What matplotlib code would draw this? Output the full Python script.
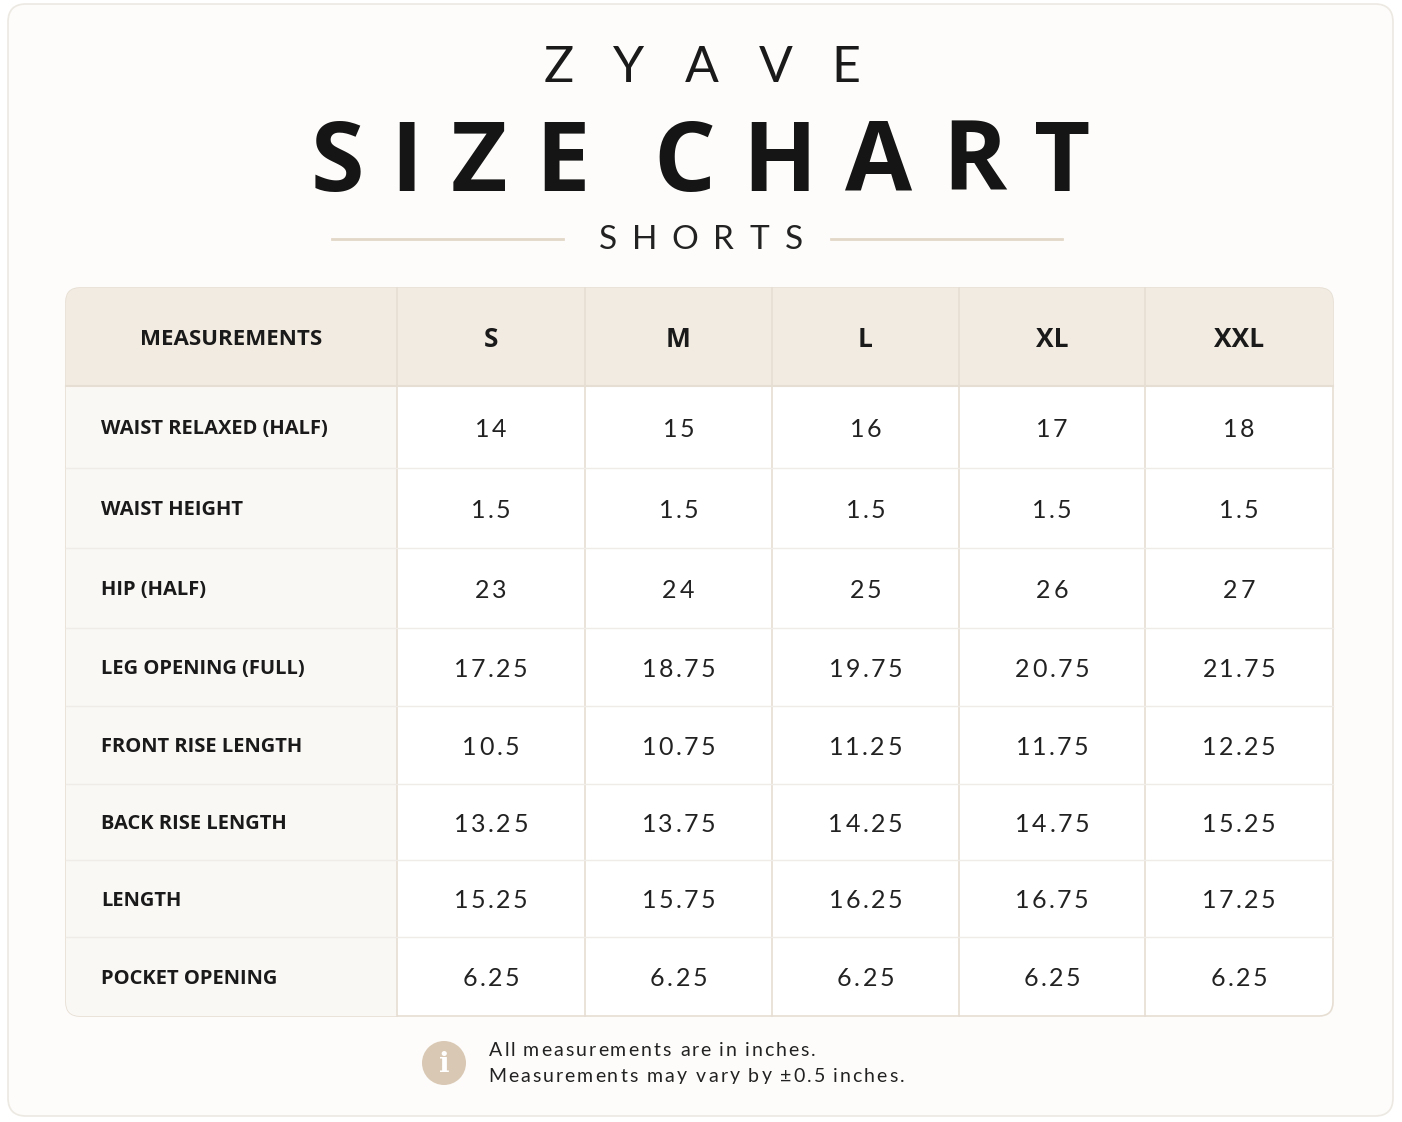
import matplotlib
matplotlib.use("Agg")
import matplotlib.pyplot as plt
from matplotlib.patches import FancyBboxPatch, Rectangle, Circle
from matplotlib.textpath import TextPath
from matplotlib.font_manager import FontProperties

brand = "ZYAVE"
title = "SIZE CHART"
subtitle = "SHORTS"
sizes = ["S", "M", "L", "XL", "XXL"]
measurements = ["WAIST RELAXED (HALF)", "WAIST HEIGHT", "HIP (HALF)", "LEG OPENING (FULL)",
                "FRONT RISE LENGTH", "BACK RISE LENGTH", "LENGTH", "POCKET OPENING"]
values = [
    ["14", "15", "16", "17", "18"],
    ["1.5", "1.5", "1.5", "1.5", "1.5"],
    ["23", "24", "25", "26", "27"],
    ["17.25", "18.75", "19.75", "20.75", "21.75"],
    ["10.5", "10.75", "11.25", "11.75", "12.25"],
    ["13.25", "13.75", "14.25", "14.75", "15.25"],
    ["15.25", "15.75", "16.25", "16.75", "17.25"],
    ["6.25", "6.25", "6.25", "6.25", "6.25"],
]
notes = ["All measurements are in inches.", "Measurements may vary by ±0.5 inches."]

W, H = 1402, 1122
fig = plt.figure(figsize=(W/100, H/100), dpi=100)
ax = fig.add_axes([0, 0, 1, 1])
ax.set_xlim(0, W); ax.set_ylim(H, 0); ax.axis("off")
fig.patch.set_facecolor("white")

def cw(ch, fp, size):
    # advance width in pixels (points -> px at dpi 100)
    if ch == " ":
        ch2 = TextPath((0, 0), "a a", prop=fp, size=size).get_extents().width - \
              TextPath((0, 0), "aa", prop=fp, size=size).get_extents().width
        return ch2 * 100 / 72
    return TextPath((0, 0), ch + "|", prop=fp, size=size).get_extents().width * 100 / 72 - \
           TextPath((0, 0), "|", prop=fp, size=size).get_extents().width * 100 / 72

def tracked(x, y, s, track, size, family, weight="normal", color="#1a1a1a", ha="center", z=4):
    fp = FontProperties(family=family, weight=weight)
    ws = [cw(c, fp, size) for c in s]
    total = sum(ws) + track * (len(s) - 1)
    x0 = x - total / 2 if ha == "center" else x
    for c, w in zip(s, ws):
        if c != " ":
            ax.text(x0 + w / 2, y, c, ha="center", va="center", fontsize=size,
                    family=family, weight=weight, color=color, zorder=z)
        x0 += w + track

ax.add_patch(FancyBboxPatch((8, 4), 1385, 1112, boxstyle="round,pad=0,rounding_size=18",
                            fc="#FDFCFA", ec="#ECE8E2", lw=1.2))
tracked(W/2, 68, brand, 36, 36, "Lato", color="#1a1a1a")
tracked(W/2, 165, title, 12, 70, "Open Sans", weight="bold", color="#151515")
tracked(W/2, 240, subtitle, 14, 24, "Lato", color="#222")
ax.plot([332, 563], [239, 239], color="#E3D7C7", lw=2)
ax.plot([831, 1062], [239, 239], color="#E3D7C7", lw=2)

cols = [66, 397, 585, 772, 959, 1145, 1333]
rows = [288, 386, 468, 548, 628, 706, 784, 860, 937, 1016]
L, R, T, B = cols[0], cols[-1], rows[0], rows[-1]
card = FancyBboxPatch((L, T), R-L, B-T, boxstyle="round,pad=0,rounding_size=14",
                      fc="white", ec="#E6DED3", lw=1.2, zorder=1)
ax.add_patch(card)
hdr = Rectangle((L, T), R-L, rows[1]-T, fc="#F2EBE1", ec="none", zorder=2)
hdr.set_clip_path(card); ax.add_patch(hdr)
fc = Rectangle((L, rows[1]), cols[1]-L, B-rows[1], fc="#FAF8F5", ec="none", zorder=2)
fc.set_clip_path(card); ax.add_patch(fc)
for x in cols[1:-1]:
    ax.plot([x, x], [T, B], color="#E6DED3", lw=1.2, zorder=3)
for i, y in enumerate(rows[1:-1]):
    ax.plot([L, R], [y, y], color="#E6DED3" if i == 0 else "#EFEBE6", lw=1.5 if i == 0 else 1, zorder=3)

hy = (rows[0]+rows[1])/2 + 2
ax.text((cols[0]+cols[1])/2, hy, "MEASUREMENTS", ha="center", va="center", fontsize=16,
        weight="bold", family="Open Sans", color="#1a1a1a", zorder=4)
for j, s in enumerate(sizes):
    ax.text((cols[j+1]+cols[j+2])/2, hy, s, ha="center", va="center", fontsize=19,
            weight="bold", family="Open Sans", color="#1a1a1a", zorder=4)
for i, m in enumerate(measurements):
    cy = (rows[i+1]+rows[i+2])/2 + 2
    ax.text(101, cy, m, ha="left", va="center", fontsize=14.5, weight="bold",
            family="Open Sans", color="#1a1a1a", zorder=4)
    for j, v in enumerate(values[i]):
        tracked((cols[j+1]+cols[j+2])/2, cy, v, 1.5, 18, "Lato", color="#222")

ax.add_patch(Circle((444, 1063), 22, fc="#D9C8B4", ec="none"))
ax.text(444, 1065, "i", ha="center", va="center", fontsize=20, weight="bold",
        family="DejaVu Serif", color="white")
for k, n in enumerate(notes):
    tracked(488, 1050 + 26*k, n, 1.3, 14, "Lato", color="#222", ha="left")

fig.savefig("out.png", dpi=100, facecolor="white")
